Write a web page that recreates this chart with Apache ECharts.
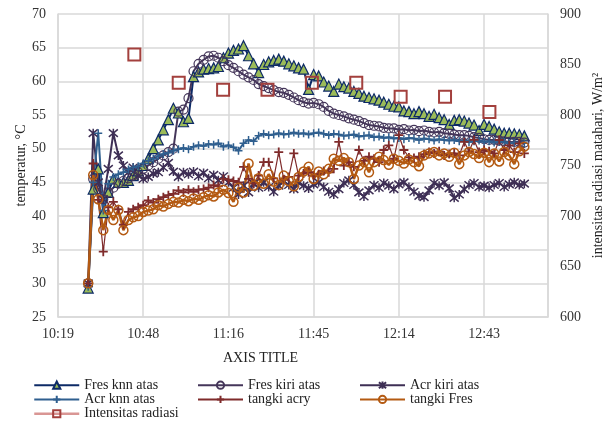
<!DOCTYPE html>
<html><head><meta charset="utf-8">
<script src="https://cdn.jsdelivr.net/npm/echarts@6/dist/echarts.min.js"></script>
<style>html,body{margin:0;padding:0;background:#fff}#c{width:611px;height:421px}</style>
</head><body><div id="c"></div>
<script>
// time in minutes since midnight
const times = [629.4,631.1,632.8,634.5,636.2,637.9,639.6,641.3,643.0,644.6,646.3,648.0,649.7,651.4,653.1,654.8,656.5,658.2,659.9,661.6,663.3,665.0,666.7,668.4,670.1,671.8,673.4,675.1,676.8,678.5,680.2,681.9,683.6,685.3,687.0,688.7,690.4,692.1,693.8,695.5,697.2,698.9,700.5,702.2,703.9,705.6,707.3,709.0,710.7,712.4,714.1,715.8,717.5,719.2,720.9,722.6,724.3,726.0,727.7,729.3,731.0,732.7,734.4,736.1,737.8,739.5,741.2,742.9,744.6,746.3,748.0,749.7,751.4,753.1,754.8,756.5,758.1,759.8,761.5,763.2,764.9,766.6,768.3,770.0,771.7,773.4,775.1,776.8];
const fresKnnAtas = [29.3,44,47,40.5,43.5,45.5,45,45,45.3,46,46.7,47.5,48.5,50,51.3,52.8,54.3,56.0,55.3,54,54.5,60.7,61.4,61.8,61.9,62,62.2,63.5,64.2,64.6,64.8,65.3,63.8,62.6,61.3,62.5,62.9,63.1,63.3,63.0,62.6,62.3,62.0,61.8,58.8,61.0,60.8,59.9,59.3,58.5,59.6,59.2,59.0,58.5,58.2,57.8,57.6,57.4,57.2,56.9,56.6,56.3,56.2,55.6,55.5,55.2,55.5,55.2,54.8,55.1,54.6,54.3,53.6,54.2,54.3,54.1,53.8,53.5,52.7,53.6,53.3,52.9,52.5,52.3,52.3,52.2,52.1,51.9];
const fresKiriAtas = [30,45.5,44,42.5,43.5,44.2,44.8,45.2,45.6,46,46.5,47,47.5,48,48.5,49,49.5,50,55.5,55.8,57.5,61.5,62.6,63.2,63.7,63.8,63.5,63.0,62.4,62.0,61.5,61.0,60.6,60.2,59.6,59.3,59.0,58.7,58.4,58.3,58.0,57.6,57.2,56.9,56.7,56.8,56.6,56.2,55.6,55.2,55.0,54.8,54.5,54.3,54.1,53.8,53.5,53.4,53.3,53.1,53.0,53.0,52.8,52.9,52.7,52.8,52.6,52.7,52.5,52.4,52.5,52.3,52.2,52.1,52.0,52.0,51.9,51.7,51.6,51.4,51.3,51.3,51.2,51.1,51.0,51.0,51.0,50.9];
const acrKiriAtas = [30,52.3,45,42.5,47,52.3,49,47.5,46.5,47.2,46,45.5,45.8,46.3,46.5,47.2,47.9,46.6,45.8,46.5,46.2,46.6,45.9,46.4,45.6,46.1,45.3,45.9,45.0,44.2,43.2,44.5,43.5,44.8,44.2,45.0,44.3,43.6,44.5,45.1,44.6,44.0,44.9,44.5,44.1,44.7,45.0,44.3,43.6,43.2,44.0,44.9,45.3,44.6,43.5,42.9,43.8,44.6,44.2,44.9,44.5,44.0,44.7,45.0,44.3,43.6,43.0,42.8,43.8,44.9,44.5,45.0,44.1,42.7,43.2,44.0,44.6,44.9,44.3,44.5,44.2,44.6,44.9,44.3,44.7,45.0,44.6,44.8];
const acrKnnAtas = [29.5,45,52.3,40.8,44.8,45.8,46.2,46.5,46.9,47.2,47.4,47.8,48.2,48.5,48.9,49.2,49.4,49.7,49.9,50.1,49.9,50.3,50.5,50.4,50.7,50.6,50.8,50.3,50.5,50.2,49.7,50.8,51.3,51.1,51.9,52.2,52.0,52.1,52.3,52.1,52.2,52.4,52.2,52.3,52.1,52.3,52.4,52.2,52.0,52.2,52.1,51.9,52.0,52.1,51.8,51.9,52.0,51.7,51.8,51.6,51.7,51.5,51.6,51.4,51.6,51.5,51.3,51.5,51.4,51.2,51.4,51.3,51.2,51.3,51.1,51.2,51.0,51.1,51.2,51.0,51.1,50.9,51.0,51.0,50.8,50.9,50.8,50.8];
const tangkiAcry = [30,47.8,42.4,34.7,41.3,42.1,41.0,38.7,40.6,41.0,41.3,41.6,42.3,42.0,42.5,42.8,43.1,43.3,43.8,43.5,43.9,43.6,43.9,44.0,44.2,44.6,44.4,45.5,45.4,45.2,45.0,47.3,45.5,44.8,46.0,48.0,48.0,45.6,49.5,45.4,45.8,49.3,46.0,46.3,46.5,46.0,46.2,46.7,46.5,47.0,51.0,47.5,48.0,47.3,49.8,48.2,48.8,48.5,48.0,49.8,50.5,48.5,52.0,49.8,48.7,48.6,48.8,49.2,49.5,49.3,49.6,49.0,49.2,49.3,49.0,51.0,49.6,51.3,49.5,49.8,49.6,49.3,51.3,49.8,50.5,49.5,50.8,49.3];
const tangkiFres = [30,46.1,42.5,37.9,40.9,39.4,40.9,37.9,39.4,39.8,40.0,40.6,40.8,41.0,41.6,41.4,41.8,42.1,42.0,42.4,42.2,42.6,42.4,42.8,43.1,42.9,43.5,43.9,43.4,42.1,44.2,43.5,47.8,44.5,45.6,44.8,46.2,45.1,44.6,46.0,45.2,44.4,45.8,46.6,47.3,45.5,46.6,46.2,47.0,48.5,48.2,48.6,48.0,45.5,47.5,48.0,46.5,48.0,48.8,48.3,47.6,48.5,48.2,47.8,48.4,48.0,47.4,49.0,49.3,49.5,49.0,49.3,48.8,49.4,47.7,49.0,49.5,49.2,48.6,49.4,48.0,49.3,48.1,49.5,49.0,47.7,49.6,50.3];
const radTimes = [645,660,675,690,705,720,735,750,765];
const intensitasRadiasi = [860,832,825,825,832,832,818,818,803];
const xTickMin = 619.2, xTickStep = 28.8, xMax = 784.8;

const FONT = 'Liberation Serif';
const pair = (xs, ys) => xs.map((t, i) => [t, ys[i]]);
const plus = 'path://M5,0L5,10M0,5L10,5';
const aster = 'path://M0,0L10,10M10,0L0,10M5,-1L5,11';

function lineSeries(name, data, color, width, symbol, size, fill, border, bw) {
  return {
    name, type: 'line', data, yAxisIndex: 0,
    symbol, symbolSize: size, showAllSymbol: true,
    lineStyle: {color, width},
    itemStyle: {color: fill, borderColor: border, borderWidth: bw},
    emphasis: {disabled: true}
  };
}

const chart = echarts.init(document.getElementById('c'), null, {renderer: 'canvas'});
const legendCommon = {
  orient: 'vertical', itemWidth: 45, itemHeight: 9, itemGap: 0, padding: 0,
  textStyle: {fontFamily: FONT, fontSize: 14, color: '#222', lineHeight: 14.3},
  selectedMode: false, top: 378, height: 43
};
chart.setOption({
  animation: false,
  backgroundColor: '#fff',
  grid: {left: 58, right: 63, top: 14, bottom: 104, outerBoundsMode: 'none', containLabel: false},
  legend: [
    Object.assign({}, legendCommon, {left: 33, data: ['Fres knn atas', 'Acr knn atas',
      {name: 'Intensitas radiasi', lineStyle: {color: '#d99694', width: 2.5, opacity: 1}}]}),
    Object.assign({}, legendCommon, {left: 197, data: ['Fres kiri atas', 'tangki acry']}),
    Object.assign({}, legendCommon, {left: 359, data: ['Acr kiri atas', 'tangki Fres']})
  ],
  graphic: [{type: 'text', left: 259 - 36, top: 351,
    style: {text: 'AXIS TITLE', font: '14px "Liberation Serif"', fill: '#222'}}],
  xAxis: {
    type: 'value', min: xTickMin, max: xMax, interval: xTickStep,
    axisLine: {show: true, lineStyle: {color: '#d9d9d9', width: 1.5}},
    axisTick: {show: false},
    splitLine: {show: true, lineStyle: {color: '#d9d9d9', width: 1.5}},
    axisLabel: {
      showMaxLabel: false, margin: 10, fontFamily: FONT, fontSize: 14, color: '#333',
      formatter: v => {
        const h = Math.floor(v / 60 + 1e-9), m = Math.floor(v - h * 60 + 1e-6);
        return h + ':' + String(m).padStart(2, '0');
      }
    }
  },
  yAxis: [
    {
      type: 'value', min: 25, max: 70, interval: 5, position: 'left',
      name: 'temperatur, °C', nameLocation: 'middle', nameGap: 30, nameRotate: 90, nameMoveOverlap: false,
      nameTextStyle: {fontFamily: FONT, fontSize: 14, color: '#222'},
      axisLine: {show: true, lineStyle: {color: '#d9d9d9', width: 1.5}},
      axisTick: {show: false},
      splitLine: {show: true, lineStyle: {color: '#d9d9d9', width: 1.5}},
      axisLabel: {margin: 12, fontFamily: FONT, fontSize: 14, color: '#333'}
    },
    {
      type: 'value', min: 600, max: 900, interval: 50, position: 'right',
      name: 'intensitas radiasi matahari, W/m²', nameLocation: 'middle', nameGap: 43, nameRotate: 90, nameMoveOverlap: false,
      nameTextStyle: {fontFamily: FONT, fontSize: 14, color: '#222'},
      axisLine: {show: true, lineStyle: {color: '#d9d9d9', width: 1.5}},
      axisTick: {show: false},
      splitLine: {show: false},
      axisLabel: {margin: 12, fontFamily: FONT, fontSize: 14, color: '#333'}
    }
  ],
  series: [
    lineSeries('Fres knn atas', pair(times, fresKnnAtas), '#0d2a66', 2, 'triangle', 10, '#9bbb59', '#0d2a66', 1.2),
    lineSeries('Fres kiri atas', pair(times, fresKiriAtas), '#45365a', 2, 'circle', 9, 'rgba(255,255,255,0)', '#45365a', 1.2),
    lineSeries('Acr kiri atas', pair(times, acrKiriAtas), '#3e2f55', 2, aster, 9, 'rgba(255,255,255,0)', '#3e2f55', 1.5),
    lineSeries('Acr knn atas', pair(times, acrKnnAtas), '#2f5f8f', 2, plus, 8, 'rgba(255,255,255,0)', '#2f5f8f', 1.5),
    lineSeries('tangki acry', pair(times, tangkiAcry), '#7f2b2b', 1.2, plus, 9, 'rgba(255,255,255,0)', '#7f2b2b', 1.8),
    lineSeries('tangki Fres', pair(times, tangkiFres), '#b45a12', 2.5, 'circle', 9, 'rgba(255,255,255,0)', '#b45a12', 1.5),
    {
      name: 'Intensitas radiasi', type: 'line', yAxisIndex: 1, data: pair(radTimes, intensitasRadiasi),
      symbol: 'rect', symbolSize: 12, showAllSymbol: true,
      lineStyle: {width: 0, opacity: 0, color: '#d99694'},
      itemStyle: {color: 'rgba(255,255,255,0)', borderColor: '#a3403d', borderWidth: 2},
      emphasis: {disabled: true}
    }
  ]
});
</script></body></html>
